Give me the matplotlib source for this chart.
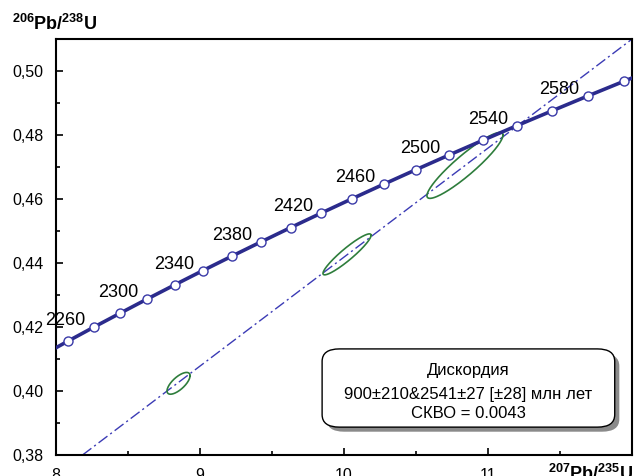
import numpy as np
import matplotlib
matplotlib.use("Agg")
from matplotlib import pyplot as plt
from matplotlib.patches import FancyBboxPatch
from matplotlib.ticker import MultipleLocator, FixedLocator, FuncFormatter

plt.rcParams['font.family'] = ['Liberation Sans', 'DejaVu Sans']
plt.rcParams['mathtext.fontset'] = 'custom'
plt.rcParams['mathtext.rm'] = 'Liberation Sans'
plt.rcParams['mathtext.bf'] = 'Liberation Sans:bold'

# Конкордия: возраст (млн лет) и отношения изотопов
ages = [2220, 2240, 2260, 2280, 2300, 2320, 2340, 2360, 2380, 2400, 2420,
        2440, 2460, 2480, 2500, 2520, 2540, 2560, 2580, 2600, 2620]
r75 = [7.9028, 8.0799, 8.2605, 8.4447, 8.6326, 8.8242, 9.0197, 9.2190,
       9.4223, 9.6296, 9.8411, 10.0567, 10.2767, 10.5010, 10.7298, 10.9631,
       11.2010, 11.4437, 11.6913, 11.9437, 12.2012]
r68 = [0.41111, 0.41550, 0.41990, 0.42430, 0.42873, 0.43317, 0.43763,
       0.44209, 0.44657, 0.45107, 0.45558, 0.46010, 0.46464, 0.46919,
       0.47375, 0.47833, 0.48293, 0.48753, 0.49216, 0.49679, 0.50145]
label_ages = [2260, 2300, 2340, 2380, 2420, 2460, 2500, 2540, 2580]

# Дискордия: нижнее (900) и верхнее (2541) пересечения
disc_x = [1.4263, 11.2130]
disc_y = [0.14983, 0.48316]

# Эллипсы ошибок
ell_x = [8.851, 10.021, 10.840]
ell_y = [0.4024, 0.4427, 0.4705]
ell_sx = [0.080, 0.167, 0.264]
ell_sy = [0.0034, 0.0064, 0.0103]
ell_rho = [0.70, 0.93, 0.92]

x_ticks = [8, 9, 10, 11]

fig = plt.figure(figsize=(6.34, 4.76), dpi=100)
ax = fig.add_axes([56 / 634, 1 - 455 / 476, 576 / 634, 416 / 476])

ax.set_xlim(8, 12)
ax.set_ylim(0.38, 0.51)

# дискордия
ax.axline((disc_x[0], disc_y[0]), (disc_x[1], disc_y[1]), color='#3b3bb5',
          lw=1.0, dashes=(8, 2.5, 1.5, 2.5), zorder=2)

# эллипсы
t = np.linspace(0, 2 * np.pi, 200)
for cx, cy, sx, sy, rho in zip(ell_x, ell_y, ell_sx, ell_sy, ell_rho):
    phi = np.arccos(rho)
    ax.plot(cx + sx * np.cos(t), cy + sy * np.cos(t - phi),
            color='#2e7d3c', lw=1.2, zorder=3)

# конкордия
ax.plot(r75, r68, color='#2b2b8c', lw=2.6, marker='o', ms=6.5,
        mfc='white', mec='#3a3aa8', mew=1.0, zorder=4)

for a, x, y in zip(ages, r75, r68):
    if a in label_ages:
        ax.annotate(str(a), (x, y), xytext=(-6, 1.5), textcoords='offset points',
                    ha='right', va='baseline', fontsize=13, zorder=5)

ax.xaxis.set_major_locator(FixedLocator(x_ticks))
ax.xaxis.set_minor_locator(MultipleLocator(0.5))
ax.yaxis.set_major_locator(MultipleLocator(0.02))
ax.yaxis.set_minor_locator(MultipleLocator(0.01))
ax.yaxis.set_major_formatter(FuncFormatter(lambda v, p: f"{v:.2f}".replace('.', ',')))
ax.xaxis.set_major_formatter(FuncFormatter(lambda v, p: f"{v:.0f}"))

ax.tick_params(which='both', direction='in', top=False, right=False, labelsize=11.5, width=1.2)
ax.tick_params(which='major', length=5)
ax.tick_params(which='minor', length=3)
ax.tick_params(axis='y', pad=9)
ax.tick_params(axis='x', pad=9)
for s in ax.spines.values():
    s.set_linewidth(1.5)

# подписи осей
fig.text(12 / 634, 1 - 30 / 476, r'$^{\mathbf{206}}\mathbf{Pb/}^{\mathbf{238}}\mathbf{U}$',
         fontsize=13, ha='left', va='baseline')
fig.text(548 / 634, 1 - 480 / 476, r'$^{\mathbf{207}}\mathbf{Pb/}^{\mathbf{235}}\mathbf{U}$',
         fontsize=13, ha='left', va='baseline')

# рамка с результатом
bx0, by0, bx1, by1 = 0.462, 0.067, 0.970, 0.255
shadow = FancyBboxPatch((bx0 + 0.008, by0 - 0.011), bx1 - bx0, by1 - by0,
                        boxstyle='round,pad=0,rounding_size=0.03', transform=ax.transAxes,
                        fc='#8a8a8a', ec='none', zorder=6)
box = FancyBboxPatch((bx0, by0), bx1 - bx0, by1 - by0,
                     boxstyle='round,pad=0,rounding_size=0.03', transform=ax.transAxes,
                     fc='white', ec='black', lw=1.0, zorder=7)
ax.add_patch(shadow)
ax.add_patch(box)
cx = (bx0 + bx1) / 2
ax.text(cx, 0.202, 'Дискордия', transform=ax.transAxes, ha='center', va='center',
        fontsize=12, zorder=8)
ax.text(cx, 0.146, '900±210&2541±27 [±28] млн лет', transform=ax.transAxes,
        ha='center', va='center', fontsize=12, zorder=8)
ax.text(cx, 0.100, 'СКВО = 0.0043', transform=ax.transAxes, ha='center', va='center',
        fontsize=12, zorder=8)

fig.savefig('out.png', dpi=100)
